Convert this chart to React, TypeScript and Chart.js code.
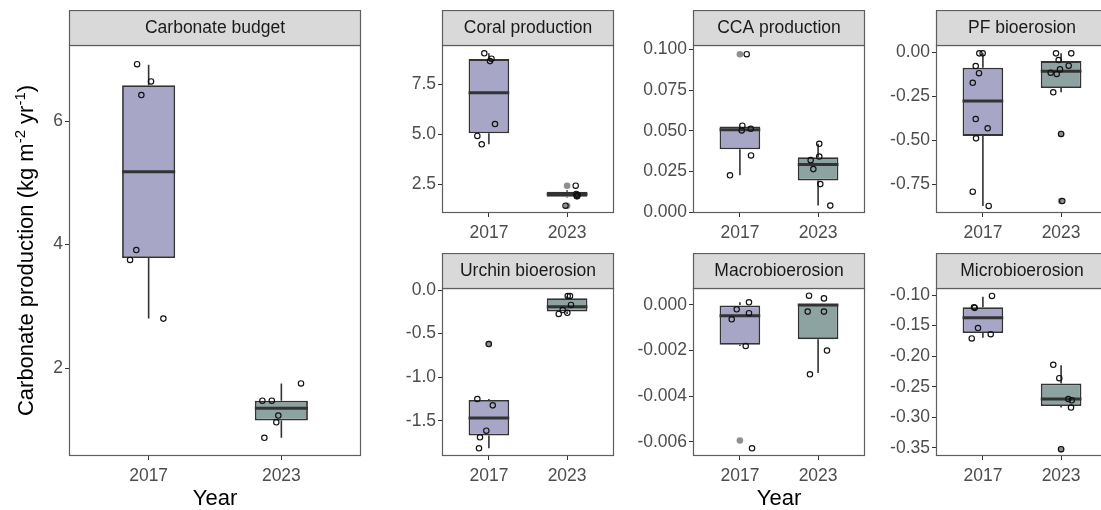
import React, { useEffect, useRef } from "react";
import { Chart, registerables } from "chart.js";

Chart.register(...registerables);

const FONT = "'Liberation Sans', Arial, Helvetica, sans-serif";
Chart.defaults.font.family = FONT;

// ---------- data ----------
const years = ["2017", "2023"];

// Box statistics per year: [lower whisker, Q1, median, Q3, upper whisker]
// Points: site values; jitter: horizontal offsets (in category units) of the jittered points.

// Carbonate budget
const budgetTicks = [2, 4, 6];
const budgetTickLabels = ["2", "4", "6"];
const budgetBox2017 = [2.8, 3.78, 5.18, 6.58, 6.91];
const budgetBox2023 = [0.87, 1.15, 1.35, 1.47, 1.75];
const budgetOut2017: number[] = [];
const budgetOut2023: number[] = [];
const budgetPts2017 = [6.92, 6.64, 6.42, 3.91, 3.75, 2.8];
const budgetJit2017 = [-0.087, 0.018, -0.055, -0.093, -0.14, 0.111];
const budgetPts2023 = [1.47, 1.47, 1.75, 1.23, 1.12, 0.87];
const budgetJit2023 = [-0.143, -0.072, 0.148, -0.023, -0.038, -0.128];

// Coral production
const coralTicks = [2.5, 5.0, 7.5];
const coralTickLabels = ["2.5", "5.0", "7.5"];
const coralBox2017 = [4.5, 5.05, 7.08, 8.76, 9.05];
const coralBox2023 = [1.84, 1.88, 2.0, 2.13, 2.2];
const coralOut2017: number[] = [];
const coralOut2023 = [2.43, 1.43];
const coralPts2017 = [9.05, 8.66, 8.78, 5.51, 4.92, 4.5];
const coralJit2017 = [-0.059, 0.014, 0.033, 0.078, -0.148, -0.092];
const coralPts2023 = [2.43, 1.92, 1.96, 2.02, 1.9, 1.43];
const coralJit2023 = [0.11, 0.123, 0.135, 0.118, 0.128, -0.02];

// CCA production
const ccaTicks = [0, 0.025, 0.05, 0.075, 0.1];
const ccaTickLabels = ["0.000", "0.025", "0.050", "0.075", "0.100"];
const ccaBox2017 = [0.0227, 0.0387, 0.0507, 0.0526, 0.0531];
const ccaBox2023 = [0.0041, 0.0195, 0.0293, 0.0338, 0.042];
const ccaOut2017 = [0.097];
const ccaOut2023: number[] = [];
const ccaPts2017 = [0.097, 0.0531, 0.0502, 0.0512, 0.0349, 0.0227];
const ccaJit2017 = [0.087, 0.031, 0.023, 0.138, 0.142, -0.127];
const ccaPts2023 = [0.042, 0.032, 0.0342, 0.0265, 0.0173, 0.0041];
const ccaJit2023 = [0.015, -0.095, 0.015, -0.061, 0.028, 0.156];

// PF bioerosion
const pfTicks = [-0.75, -0.5, -0.25, 0];
const pfTickLabels = ["-0.75", "-0.50", "-0.25", "0.00"];
const pfBox2017 = [-0.873, -0.475, -0.276, -0.088, -0.006];
const pfBox2023 = [-0.227, -0.203, -0.107, -0.05, -0.006];
const pfOut2017: number[] = [];
const pfOut2023 = [-0.464, -0.845];
const pfPts2017 = [-0.006, -0.006, -0.078, -0.119, -0.173, -0.379, -0.432, -0.489, -0.792, -0.873];
const pfJit2017 = [-0.046, -0.003, -0.092, -0.05, -0.13, -0.092, 0.061, -0.088, -0.13, 0.074];
const pfPts2023 = [-0.006, -0.006, -0.044, -0.076, -0.097, -0.116, -0.123, -0.227, -0.464, -0.845];
const pfJit2023 = [-0.065, 0.13, -0.031, 0.097, -0.014, -0.133, -0.056, -0.1, 0.0, 0.015];

// Urchin bioerosion
const urchinTicks = [-1.5, -1.0, -0.5, 0];
const urchinTickLabels = ["-1.5", "-1.0", "-0.5", "0.0"];
const urchinBox2017 = [-1.817, -1.671, -1.47, -1.263, -1.251];
const urchinBox2023 = [-0.275, -0.248, -0.191, -0.095, -0.069];
const urchinOut2017 = [-0.62];
const urchinOut2023: number[] = [];
const urchinPts2017 = [-1.251, -1.324, -1.615, -1.69, -1.817, -0.62];
const urchinJit2017 = [-0.148, 0.049, -0.033, -0.114, -0.127, -0.002];
const urchinPts2023 = [-0.069, -0.069, -0.172, -0.23, -0.275, -0.262];
const urchinJit2023 = [0.008, 0.037, 0.05, -0.056, -0.107, 0.003];

// Macrobioerosion
const macroTicks = [-0.006, -0.004, -0.002, 0];
const macroTickLabels = ["-0.006", "-0.004", "-0.002", "0.000"];
const macroBox2017 = [-0.0018, -0.00175, -0.00047, 0.0, 0.00012];
const macroBox2023 = [-0.00298, -0.0015, 0.0, 0.00003, 0.00003];
const macroOut2017 = [-0.00595];
const macroOut2023: number[] = [];
const macroPts2017 = [0.00012, -0.00019, -0.00036, -0.00063, -0.0018, -0.00629];
const macroJit2017 = [0.116, -0.041, 0.116, -0.105, 0.074, 0.155];
const macroPts2023 = [0.00041, 0.00029, -0.00029, -0.00029, -0.002, -0.00304];
const macroJit2023 = [-0.116, 0.075, -0.133, 0.075, 0.114, -0.104];

// Microbioerosion
const microTicks = [-0.35, -0.3, -0.25, -0.2, -0.15, -0.1];
const microTickLabels = ["-0.35", "-0.30", "-0.25", "-0.20", "-0.15", "-0.10"];
const microBox2017 = [-0.17, -0.162, -0.137, -0.12, -0.103];
const microBox2023 = [-0.284, -0.2815, -0.27, -0.2445, -0.215];
const microOut2017: number[] = [];
const microOut2023 = [-0.352];
const microPts2017 = [-0.1016, -0.12, -0.121, -0.154, -0.164, -0.171];
const microJit2017 = [0.116, -0.114, -0.105, -0.063, 0.1, -0.143];
const microPts2023 = [-0.214, -0.236, -0.27, -0.272, -0.284, -0.352];
const microJit2023 = [-0.1, -0.023, 0.092, 0.136, 0.127, 0.0];

// ---------- styling ----------
const FILL_2017 = "#a7a6c7";
const FILL_2023 = "#8da3a1";
const DARK = "#333333";
const FRAME = "#5e5e5e";
const TICK_TEXT = "#4d4d4d";
const STRIP_FILL = "#d9d9d9";
const STRIP_H = 35;

type Facet = {
  title: string;
  ticks: number[];
  tickLabels: string[];
  yMin: number;
  yMax: number;
  boxes: number[][];
  outliers: number[][];
  points: number[][];
  jitter: number[][];
};

type Geom = {
  left: number;
  top: number;
  yAxisW: number;
  plotW: number;
  plotH: number;
  xAxisH: number;
  boxWidth: number;
  xTitle?: boolean;
  yTitle?: boolean;
};

const facets: Record<string, Facet> = {
  budget: {
    title: "Carbonate budget",
    ticks: budgetTicks,
    tickLabels: budgetTickLabels,
    yMin: 0.575,
    yMax: 7.231,
    boxes: [budgetBox2017, budgetBox2023],
    outliers: [budgetOut2017, budgetOut2023],
    points: [budgetPts2017, budgetPts2023],
    jitter: [budgetJit2017, budgetJit2023],
  },
  coral: {
    title: "Coral production",
    ticks: coralTicks,
    tickLabels: coralTickLabels,
    yMin: 1.065,
    yMax: 9.465,
    boxes: [coralBox2017, coralBox2023],
    outliers: [coralOut2017, coralOut2023],
    points: [coralPts2017, coralPts2023],
    jitter: [coralJit2017, coralJit2023],
  },
  cca: {
    title: "CCA production",
    ticks: ccaTicks,
    tickLabels: ccaTickLabels,
    yMin: -0.00043,
    yMax: 0.10264,
    boxes: [ccaBox2017, ccaBox2023],
    outliers: [ccaOut2017, ccaOut2023],
    points: [ccaPts2017, ccaPts2023],
    jitter: [ccaJit2017, ccaJit2023],
  },
  pf: {
    title: "PF bioerosion",
    ticks: pfTicks,
    tickLabels: pfTickLabels,
    yMin: -0.913,
    yMax: 0.0415,
    boxes: [pfBox2017, pfBox2023],
    outliers: [pfOut2017, pfOut2023],
    points: [pfPts2017, pfPts2023],
    jitter: [pfJit2017, pfJit2023],
  },
  urchin: {
    title: "Urchin bioerosion",
    ticks: urchinTicks,
    tickLabels: urchinTickLabels,
    yMin: -1.905,
    yMax: 0.023,
    boxes: [urchinBox2017, urchinBox2023],
    outliers: [urchinOut2017, urchinOut2023],
    points: [urchinPts2017, urchinPts2023],
    jitter: [urchinJit2017, urchinJit2023],
  },
  macro: {
    title: "Macrobioerosion",
    ticks: macroTicks,
    tickLabels: macroTickLabels,
    yMin: -0.006628,
    yMax: 0.000746,
    boxes: [macroBox2017, macroBox2023],
    outliers: [macroOut2017, macroOut2023],
    points: [macroPts2017, macroPts2023],
    jitter: [macroJit2017, macroJit2023],
  },
  micro: {
    title: "Microbioerosion",
    ticks: microTicks,
    tickLabels: microTickLabels,
    yMin: -0.3631,
    yMax: -0.08856,
    boxes: [microBox2017, microBox2023],
    outliers: [microOut2017, microOut2023],
    points: [microPts2017, microPts2023],
    jitter: [microJit2017, microJit2023],
  },
};

// panel placement on the page
const SMALL_W = 172;
const SMALL_H = 168;
const SMALL_AXIS = 70;
const layout: { key: string; geom: Geom }[] = [
  { key: "budget", geom: { left: 0, top: 10, yAxisW: 69, plotW: 292, plotH: 411, xAxisH: 54, boxWidth: 0.4, xTitle: true, yTitle: true } },
  { key: "coral", geom: { left: 442 - SMALL_AXIS, top: 10, yAxisW: SMALL_AXIS, plotW: SMALL_W, plotH: SMALL_H, xAxisH: 40, boxWidth: 0.52 } },
  { key: "cca", geom: { left: 693 - SMALL_AXIS, top: 10, yAxisW: SMALL_AXIS, plotW: SMALL_W, plotH: SMALL_H, xAxisH: 40, boxWidth: 0.52 } },
  { key: "pf", geom: { left: 936 - SMALL_AXIS, top: 10, yAxisW: SMALL_AXIS, plotW: SMALL_W, plotH: SMALL_H, xAxisH: 40, boxWidth: 0.52 } },
  { key: "urchin", geom: { left: 442 - SMALL_AXIS, top: 253, yAxisW: SMALL_AXIS, plotW: SMALL_W, plotH: SMALL_H, xAxisH: 54, boxWidth: 0.52 } },
  { key: "macro", geom: { left: 693 - SMALL_AXIS, top: 253, yAxisW: SMALL_AXIS, plotW: SMALL_W, plotH: SMALL_H, xAxisH: 54, boxWidth: 0.52, xTitle: true } },
  { key: "micro", geom: { left: 936 - SMALL_AXIS, top: 253, yAxisW: SMALL_AXIS, plotW: SMALL_W, plotH: SMALL_H, xAxisH: 54, boxWidth: 0.52 } },
];

// strip label above each panel
const stripPlugin = {
  id: "facetStrip",
  afterDraw(chart: any, _args: any, opts: any) {
    const { ctx, chartArea } = chart;
    const { left, right, top } = chartArea;
    ctx.save();
    ctx.fillStyle = STRIP_FILL;
    ctx.fillRect(left, top - STRIP_H, right - left, STRIP_H);
    ctx.strokeStyle = FRAME;
    ctx.lineWidth = 1.2;
    ctx.strokeRect(left + 0.5, top - STRIP_H + 0.5, right - left - 1, STRIP_H);
    ctx.fillStyle = "#1a1a1a";
    ctx.font = `17.5px ${FONT}`;
    ctx.textAlign = "center";
    ctx.textBaseline = "middle";
    ctx.fillText(opts.title, (left + right) / 2, top - STRIP_H / 2 + 1);
    ctx.restore();
  },
};

// panel border drawn over the data
const framePlugin = {
  id: "panelFrame",
  afterDatasetsDraw(chart: any) {
    const { ctx, chartArea } = chart;
    ctx.save();
    ctx.strokeStyle = FRAME;
    ctx.lineWidth = 1.2;
    ctx.strokeRect(chartArea.left + 0.5, chartArea.top + 0.5, chartArea.right - chartArea.left - 1, chartArea.bottom - chartArea.top - 1);
    ctx.restore();
  },
};

// y-axis title with superscript units
const yTitlePlugin = {
  id: "unitTitle",
  afterDraw(chart: any, _args: any, opts: any) {
    if (!opts.show) return;
    const { ctx, chartArea } = chart;
    const parts: [string, boolean][] = [
      ["Carbonate production (kg m", false],
      ["-2", true],
      [" yr", false],
      ["-1", true],
      [")", false],
    ];
    const big = `22px ${FONT}`;
    const small = `15px ${FONT}`;
    ctx.save();
    let total = 0;
    const widths = parts.map(([t, sup]) => {
      ctx.font = sup ? small : big;
      const w = ctx.measureText(t).width;
      total += w;
      return w;
    });
    ctx.translate(33, (chartArea.top + chartArea.bottom) / 2);
    ctx.rotate(-Math.PI / 2);
    ctx.fillStyle = "#000";
    ctx.textBaseline = "alphabetic";
    let x = -total / 2;
    parts.forEach(([t, sup], i) => {
      ctx.font = sup ? small : big;
      ctx.fillText(t, x, sup ? -8 : 0);
      x += widths[i];
    });
    ctx.restore();
  },
};

function makeConfig(f: Facet, g: Geom): any {
  const centers = [1, 2];
  const fills = [FILL_2017, FILL_2023];
  const whiskers: any[] = [];
  const medians: any[] = [];
  const boxes: any[] = [];
  const outliers: any[] = [];
  const points: any[] = [];
  f.boxes.forEach((b, i) => {
    const x = centers[i];
    whiskers.push({ x, y: b[0] }, { x, y: b[1] }, { x, y: null }, { x, y: b[3] }, { x, y: b[4] }, { x, y: null });
    medians.push({ x: x - g.boxWidth / 2, y: b[2] }, { x: x + g.boxWidth / 2, y: b[2] }, { x, y: null });
    boxes.push({ x, y: [b[1], b[3]] });
    f.outliers[i].forEach((v) => outliers.push({ x, y: v }));
    f.points[i].forEach((v, k) => points.push({ x: x + f.jitter[i][k], y: v }));
  });

  return {
    type: "bar",
    data: {
      datasets: [
        {
          type: "scatter",
          data: points,
          order: 0,
          pointRadius: 2.7,
          pointBorderWidth: 1.15,
          pointBorderColor: "#111111",
          pointBackgroundColor: "rgba(0,0,0,0)",
        },
        {
          type: "scatter",
          data: outliers,
          order: 1,
          pointRadius: 3.3,
          pointBorderWidth: 0,
          pointBackgroundColor: "rgba(105,105,105,0.75)",
        },
        {
          type: "line",
          data: medians,
          order: 2,
          borderColor: DARK,
          borderWidth: 3,
          borderCapStyle: "butt",
          pointRadius: 0,
          spanGaps: false,
          fill: false,
        },
        {
          type: "bar",
          data: boxes,
          order: 3,
          backgroundColor: fills,
          borderColor: DARK,
          borderWidth: 1.8,
          borderSkipped: false,
          barPercentage: g.boxWidth,
          categoryPercentage: 1,
        },
        {
          type: "line",
          data: whiskers,
          order: 4,
          borderColor: DARK,
          borderWidth: 1.6,
          pointRadius: 0,
          spanGaps: false,
          fill: false,
        },
      ],
    },
    options: {
      responsive: false,
      animation: false,
      devicePixelRatio: 1,
      layout: { autoPadding: false, padding: { top: STRIP_H, right: 2, left: 0, bottom: 0 } },
      plugins: {
        legend: { display: false },
        tooltip: { enabled: false },
        facetStrip: { title: f.title },
        unitTitle: { show: !!g.yTitle },
      },
      scales: {
        x: {
          type: "linear",
          min: 0.4,
          max: 2.6,
          offset: false,
          afterBuildTicks: (s: any) => {
            s.ticks = centers.map((v) => ({ value: v }));
          },
          afterFit: (s: any) => {
            s.height = g.xAxisH;
          },
          ticks: {
            autoSkip: false,
            maxRotation: 0,
            padding: 6,
            color: TICK_TEXT,
            font: { size: 17.5 },
            callback: (_v: any, i: number) => years[i],
          },
          grid: {
            offset: false,
            drawOnChartArea: false,
            drawTicks: true,
            tickLength: 4,
            color: DARK,
            lineWidth: 1,
          },
          border: { display: false },
          title: {
            display: !!g.xTitle,
            text: "Year",
            color: "#000",
            font: { size: 22, lineHeight: 1 },
            padding: { top: 0, bottom: 0 },
          },
        },
        y: {
          type: "linear",
          min: f.yMin,
          max: f.yMax,
          beginAtZero: false,
          afterBuildTicks: (s: any) => {
            s.ticks = f.ticks.map((v) => ({ value: v }));
          },
          afterFit: (s: any) => {
            s.width = g.yAxisW;
          },
          ticks: {
            autoSkip: false,
            padding: 2,
            color: TICK_TEXT,
            font: { size: 17.5 },
            callback: (_v: any, i: number) => f.tickLabels[i],
          },
          grid: {
            drawOnChartArea: false,
            drawTicks: true,
            tickLength: 4,
            color: DARK,
            lineWidth: 1,
          },
          border: { display: false },
        },
      },
    },
    plugins: [stripPlugin, framePlugin, yTitlePlugin],
  };
}

function FacetChart({ facet, geom }: { facet: Facet; geom: Geom }) {
  const ref = useRef<HTMLCanvasElement>(null);
  const w = geom.yAxisW + geom.plotW + 2;
  const h = STRIP_H + geom.plotH + geom.xAxisH;
  useEffect(() => {
    const chart = new Chart(ref.current as HTMLCanvasElement, makeConfig(facet, geom));
    return () => chart.destroy();
  }, [facet, geom]);
  return (
    <canvas
      ref={ref}
      width={w}
      height={h}
      style={{ position: "absolute", left: geom.left, top: geom.top, width: w, height: h, display: "block" }}
    />
  );
}

export default function App() {
  return (
    <div
      style={{
        position: "fixed",
        left: 0,
        top: 0,
        width: 1101,
        height: 510,
        overflow: "hidden",
        background: "#ffffff",
      }}
    >
      {layout.map(({ key, geom }) => (
        <FacetChart key={key} facet={facets[key]} geom={geom} />
      ))}
    </div>
  );
}
